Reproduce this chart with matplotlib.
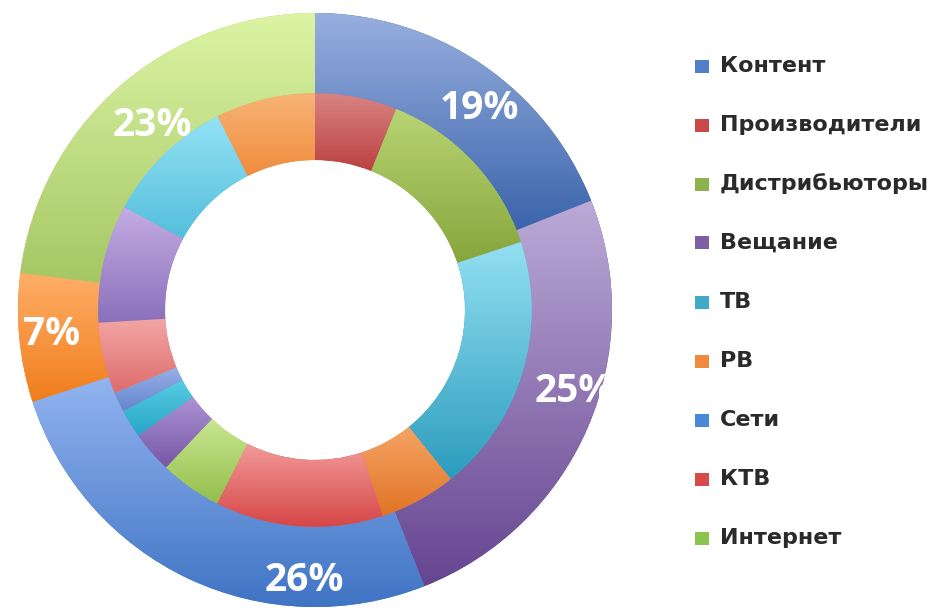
import numpy as np
import matplotlib
matplotlib.use("Agg")
import matplotlib.pyplot as plt
from matplotlib.colors import LinearSegmentedColormap
from matplotlib.patches import Rectangle

# outer ring (share of each group, %)
outer_values = [19, 25, 26, 7, 23]
outer_labels = ["19%", "25%", "26%", "7%", "23%"]
# inner ring segments, clockwise from the top (%)
inner_values = [6.1, 13.8, 19.3, 5.7, 12.5, 4.6, 3.1, 2.1, 1.5, 5.3, 8.8, 9.7, 7.4]

legend_labels = ["Контент", "Производители", "Дистрибьюторы", "Вещание", "ТВ",
                 "РВ", "Сети", "КТВ", "Интернет"]

# (top colour, bottom colour) for the gradient fills
outer_colors = [("#98afdf", "#3a64ab"), ("#bcaad8", "#654590"), ("#93b4f0", "#3f74c4"),
                ("#ffae68", "#f07d1c"), ("#dcf4a4", "#a5c765")]
inner_colors = [("#d88484", "#bc4040"), ("#b8d474", "#86a63c"), ("#94e0f2", "#2c9cbd"),
                ("#f5a464", "#e07426"), ("#f29a9a", "#d64646"), ("#c8e890", "#94be4c"),
                ("#ac94d4", "#7656a6"), ("#58cce4", "#26a6c6"), ("#98b0e6", "#6686cc"),
                ("#f2a6a6", "#de6c6c"), ("#c4ace4", "#8a70ba"), ("#94e2f6", "#54bedb"),
                ("#f8b476", "#f08c3c")]
legend_colors = ["#4f7fc4", "#c9484a", "#8fb14e", "#7d5fa8", "#3eaac6",
                 "#f08a3e", "#4a88d8", "#d84a4a", "#8cc24e"]
# manual nudges of the percentage labels, as in the original chart
label_shift = [5, -6, -23, 0, 0]           # degrees
label_r = [0.875, 0.915, 0.91, 0.89, 0.83]  # fraction of outer radius

fig = plt.figure(figsize=(9.37, 6.10), dpi=100)
ax = fig.add_axes([15 / 937, 0.0, 600 / 937, 600 / 610])

R = 0.99
ring_w = 0.27
wedges_out, _ = ax.pie(outer_values, radius=R, startangle=90, counterclock=False,
                       wedgeprops=dict(width=ring_w * R, linewidth=0))
wedges_in, _ = ax.pie(inner_values, radius=R * (1 - ring_w), startangle=90,
                      counterclock=False,
                      wedgeprops=dict(width=0.225 * R, linewidth=0))

grad = np.linspace(0, 1, 256).reshape(-1, 1)


def shade(wedge, top, bottom):
    bb = wedge.get_path().get_extents()
    wedge.set_facecolor(bottom)
    cmap = LinearSegmentedColormap.from_list("g", [bottom, top])
    im = ax.imshow(grad, extent=[bb.x0, bb.x1, bb.y0, bb.y1], origin="lower",
                   cmap=cmap, aspect="auto", interpolation="bilinear", zorder=2)
    im.set_clip_path(wedge)


for w, (top, bot) in zip(wedges_out, outer_colors):
    shade(w, top, bot)
for w, (top, bot) in zip(wedges_in, inner_colors):
    shade(w, top, bot)

# percentage labels on the outer ring
total = sum(outer_values)
start = 0.0
for val, txt, shift, rf in zip(outer_values, outer_labels, label_shift, label_r):
    mid = start + val / total * 360 / 2 + shift
    start += val / total * 360
    a = np.deg2rad(90 - mid)
    r = R * rf
    ax.text(r * np.cos(a), r * np.sin(a), txt, ha="center", va="center",
            color="white", fontsize=28, fontweight="bold", family="Open Sans",
            zorder=5)

ax.set_xlim(-1, 1)
ax.set_ylim(-1, 1)
ax.set_aspect("equal")
ax.axis("off")

# legend
for i, (name, col) in enumerate(zip(legend_labels, legend_colors)):
    y = 1 - (66 + i * 59) / 610
    fig.patches.append(Rectangle((695 / 937, y - 6.5 / 610), 14 / 937, 13 / 610,
                                 transform=fig.transFigure, facecolor=col,
                                 edgecolor="none"))
    fig.text(720 / 937, y, name, ha="left", va="center", fontsize=16,
             family="DejaVu Sans", fontweight="bold", color="#2a2a2a")

fig.savefig("out.png", dpi=100)
